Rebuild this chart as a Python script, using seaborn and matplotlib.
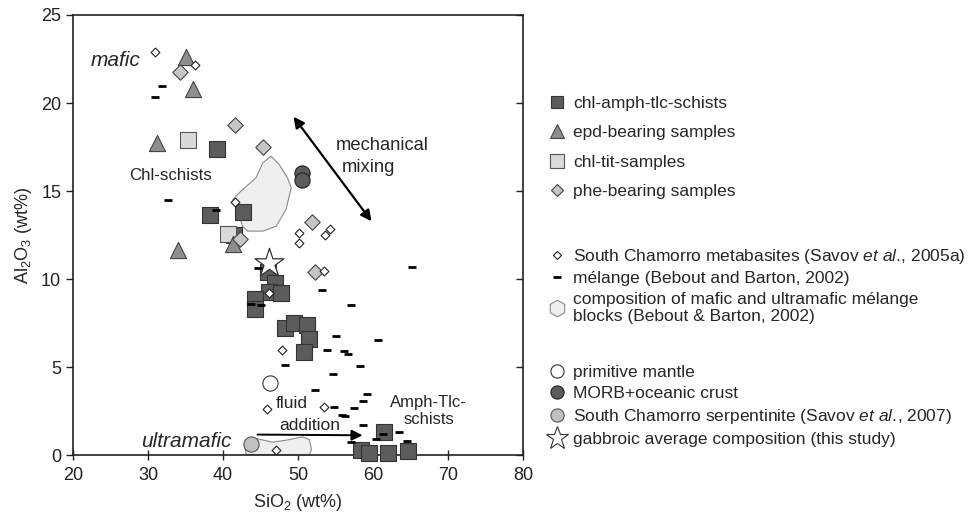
import matplotlib
matplotlib.use("Agg")
import matplotlib.pyplot as plt
from matplotlib.lines import Line2D
from matplotlib.patches import Polygon
import pandas as pd
import seaborn as sns

# ---- sample groups: SiO2 and Al2O3 (wt%) ----
chl_amph_sio2 = [39.2, 38.2, 42.7, 41.5, 46.0, 46.9, 46.1, 47.7, 44.2, 44.3,
                 48.2, 49.4, 51.2, 51.4, 50.8, 58.4, 59.4, 62.0, 64.7, 61.4]
chl_amph_al2o3 = [17.4, 13.66, 13.8, 12.5, 10.4, 9.8, 9.27, 9.2, 8.87, 8.27,
                  7.23, 7.51, 7.36, 6.6, 5.86, 0.3, 0.12, 0.12, 0.22, 1.3]

epd_sio2 = [35.0, 36.0, 31.2, 41.3, 34.0]
epd_al2o3 = [22.6, 20.8, 17.7, 12.0, 11.64]

chl_tit_sio2 = [35.3, 40.6]
chl_tit_al2o3 = [17.9, 12.53]

phe_sio2 = [34.3, 41.6, 45.3, 42.2, 51.8, 52.2]
phe_al2o3 = [21.75, 18.74, 17.5, 12.28, 13.23, 10.41]

metabasite_sio2 = [30.9, 36.2, 41.6, 50.1, 50.1, 53.6, 54.3, 53.4, 46.1, 47.8, 45.8, 53.4, 47.0]
metabasite_al2o3 = [22.9, 22.15, 14.36, 12.6, 12.06, 12.49, 12.85, 10.48, 9.2, 5.94, 2.59, 2.74, 0.27]

melange_sio2 = [32.7, 31.8, 30.9, 39.0, 44.6, 43.7, 45.1, 65.2, 53.2, 57.0, 55.1, 60.6,
                53.8, 56.1, 56.7, 58.3, 48.3, 54.6, 52.2, 59.2, 58.6, 54.8, 57.5, 55.8,
                56.2, 58.6, 60.4, 61.3, 63.4, 64.5, 57.0]
melange_al2o3 = [14.5, 20.95, 20.35, 13.9, 10.6, 8.6, 8.5, 10.7, 9.37, 8.55, 6.75, 6.52,
                 5.96, 5.9, 5.75, 5.05, 5.1, 4.63, 3.68, 3.44, 3.06, 2.74, 2.68, 2.3,
                 2.2, 1.68, 0.92, 1.22, 1.3, 0.79, 0.73]

# outlines of the melange block compositions
mafic_block_sio2 = [41.3, 42.4, 44.4, 45.3, 46.4, 47.5, 48.6, 49.1, 48.4, 47.1,
                    45.3, 43.3, 42.6, 41.8]
mafic_block_al2o3 = [14.5, 15.0, 15.75, 16.6, 16.98, 16.5, 15.75, 15.18, 13.95, 13.0,
                     12.72, 12.72, 13.0, 14.14]
um_block_sio2 = [42.9, 43.3, 44.6, 46.6, 48.4, 50.6, 51.5, 51.8, 51.5, 43.1]
um_block_al2o3 = [0.5, 0.88, 0.92, 0.73, 0.84, 1.03, 0.88, 0.31, 0.0, 0.03]

morb_sio2, morb_al2o3 = [50.5, 50.5], [16.0, 15.65]
mantle_sio2, mantle_al2o3 = [46.3], [4.1]
serp_sio2, serp_al2o3 = [43.7], [0.65]
gabbro_sio2, gabbro_al2o3 = [46.1], [10.92]

x_ticks = [20, 30, 40, 50, 60, 70, 80]
y_ticks = [0, 5, 10, 15, 20, 25]

sns.set_theme(style="ticks")
plt.rcParams["font.family"] = ["Liberation Sans", "DejaVu Sans"]
plt.rcParams["mathtext.fontset"] = "custom"
plt.rcParams["mathtext.rm"] = "Liberation Sans"
plt.rcParams["mathtext.it"] = "Liberation Sans:italic"
plt.rcParams["mathtext.default"] = "regular"

fig = plt.figure(figsize=(9.75, 5.2), dpi=100)
ax = fig.add_axes([73 / 975, 65 / 520, 450 / 975, 440 / 520])

DARK = "#5c5c5c"
MID = "#8e8e8e"
LIGHT = "#dadada"
PHE = "#c6c6c6"
EDGE = "#333333"
FIELD = "#efefef"
FIELD_EDGE = "#8a8a8a"

# composition fields
ax.add_patch(Polygon(list(zip(mafic_block_sio2, mafic_block_al2o3)), closed=True,
                     facecolor=FIELD, edgecolor=FIELD_EDGE, lw=0.8, zorder=1))
ax.add_patch(Polygon(list(zip(um_block_sio2, um_block_al2o3)), closed=True,
                     facecolor=FIELD, edgecolor=FIELD_EDGE, lw=0.8, zorder=1,
                     clip_on=False))


def scatter(xs, ys, marker, size, face, edge, lw=0.8, z=3):
    df = pd.DataFrame({"SiO2": xs, "Al2O3": ys})
    sns.scatterplot(data=df, x="SiO2", y="Al2O3", ax=ax, marker=marker, s=size,
                    color=face, edgecolor=edge, linewidth=lw, zorder=z,
                    legend=False, clip_on=False)


scatter(chl_amph_sio2, chl_amph_al2o3, "s", 125, DARK, EDGE, z=3)
scatter(chl_tit_sio2, chl_tit_al2o3, "s", 125, LIGHT, "#555555", z=3)
scatter(epd_sio2, epd_al2o3, "^", 135, MID, "#444444", z=4)
scatter(phe_sio2, phe_al2o3, "D", 62, PHE, "#444444", z=4)
scatter(morb_sio2, morb_al2o3, "o", 120, DARK, "#222222", z=4)
scatter(mantle_sio2, mantle_al2o3, "o", 120, "white", "#333333", z=4)
scatter(serp_sio2, serp_al2o3, "o", 120, "#c0c0c0", "#555555", z=4)
scatter(metabasite_sio2, metabasite_al2o3, "D", 20, "white", "#222222", lw=0.8, z=5)
df_mel = pd.DataFrame({"SiO2": melange_sio2, "Al2O3": melange_al2o3})
sns.scatterplot(data=df_mel, x="SiO2", y="Al2O3", ax=ax, marker="_", s=28,
                color="black", linewidth=2.0, zorder=6, legend=False)
scatter(gabbro_sio2, gabbro_al2o3, "*", 480, "white", "#333333", lw=0.9, z=7)

# process arrows
ax.annotate("", xy=(49.4, 19.22), xytext=(59.8, 13.28),
            arrowprops=dict(arrowstyle="<|-|>", color="black", lw=1.6,
                            mutation_scale=16, shrinkA=0, shrinkB=0))
ax.annotate("", xy=(58.6, 1.12), xytext=(44.6, 1.16),
            arrowprops=dict(arrowstyle="-|>", color="black", lw=1.4,
                            mutation_scale=16, shrinkA=0, shrinkB=0))

ax.text(22.3, 22.4, "mafic", style="italic", fontsize=15, va="center", ha="left")
ax.text(29.1, 0.75, "ultramafic", style="italic", fontsize=15, va="center", ha="left")
ax.text(27.5, 15.9, "Chl-schists", fontsize=12.2, va="center", ha="left")
ax.text(55.1, 17.6, "mechanical", fontsize=13.2, va="center", ha="left")
ax.text(55.9, 16.35, "mixing", fontsize=13.2, va="center", ha="left")
ax.text(47.1, 2.93, "fluid", fontsize=12.5, va="center", ha="left")
ax.text(47.5, 1.7, "addition", fontsize=12.5, va="center", ha="left")
ax.text(67.4, 2.5, "Amph-Tlc-\nschists", fontsize=12, va="center", ha="center",
        linespacing=1.25)

ax.set_xlim(20, 80)
ax.set_ylim(0, 25)
ax.set_xticks(x_ticks)
ax.set_yticks(y_ticks)
ax.set_xlabel("SiO$_2$ (wt%)", fontsize=13, labelpad=6)
ax.set_ylabel("Al$_2$O$_3$ (wt%)", fontsize=13, labelpad=5)
for side in ["top", "right", "left", "bottom"]:
    ax.spines[side].set_visible(True)
    ax.spines[side].set_linewidth(1.2)
    ax.spines[side].set_color("#222222")
ax.tick_params(axis="both", labelsize=13, colors="#222222", width=1.0, length=5)
ax.tick_params(axis="x", direction="inout", length=7, pad=5)
ax.tick_params(axis="y", direction="out", left=True, right=True, labelright=False)
# inward ticks on the right spine
for t in ax.yaxis.get_major_ticks():
    t.tick2line.set_marker(0)
    t.tick2line.set_markersize(5)
ax.grid(False)


# ---- legend ----
def mk(marker, ms, face, edge, mew=0.8):
    return Line2D([], [], ls="none", marker=marker, markersize=ms,
                  markerfacecolor=face, markeredgecolor=edge, markeredgewidth=mew)


group1 = [
    (mk("s", 8.5, DARK, EDGE), "chl-amph-tlc-schists"),
    (mk("^", 9.5, MID, "#444444"), "epd-bearing samples"),
    (mk("s", 10, LIGHT, "#555555"), "chl-tit-samples"),
    (mk("D", 6.5, PHE, "#444444"), "phe-bearing samples"),
]
group2 = [
    (mk("D", 4.5, "white", "#222222"), "South Chamorro metabasites (Savov $\\mathit{et\\ al.}\\!$, 2005a)"),
    (mk("_", 6, "black", "black", mew=2), "mélange (Bebout and Barton, 2002)"),
    (mk("h", 12, FIELD, FIELD_EDGE), "composition of mafic and ultramafic mélange\nblocks (Bebout & Barton, 2002)"),
]
group3 = [
    (mk("o", 9.5, "white", "#333333"), "primitive mantle"),
    (mk("o", 9.5, DARK, "#222222"), "MORB+oceanic crust"),
    (mk("o", 9.5, "#c0c0c0", "#555555"), "South Chamorro serpentinite (Savov $\\mathit{et\\ al.}\\!$, 2007)"),
    (mk("*", 17, "white", "#333333"), "gabbroic average composition (this study)"),
]

LEG = 12.5
for grp, top, spacing in [(group1, 96, 0.81), (group2, 247, 0.30), (group3, 365, 0.34)]:
    fig.legend([h for h, _ in grp], [l for _, l in grp], loc="upper left",
               bbox_to_anchor=(546 / 975, 1 - top / 520), frameon=False,
               fontsize=LEG, borderpad=0, borderaxespad=0, handlelength=1.3,
               handletextpad=0.25, labelspacing=spacing)

fig.savefig("out.png", dpi=100)
